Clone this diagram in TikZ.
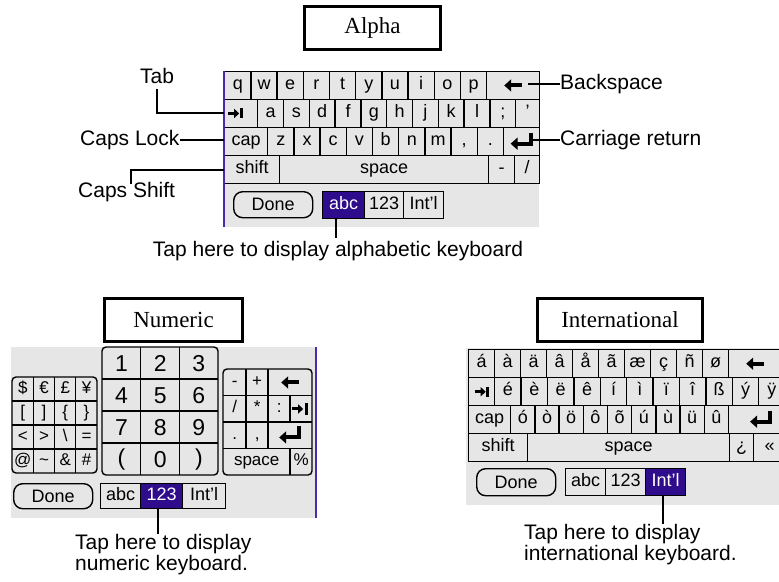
\documentclass[tikz,border=0pt]{standalone}
\usepackage{fontspec}
\setmainfont{Liberation Sans}
\newfontfamily\seriff{Liberation Serif}
\usetikzlibrary{arrows.meta}
\definecolor{kbg}{HTML}{E6E6E6}
\definecolor{hil}{HTML}{2E0C8C}
\definecolor{edgep}{HTML}{4A2AA8}
\tikzset{
 keyst/.style={draw=black, line width=1.4pt, fill=kbg, inner sep=0pt, text height=11pt, text depth=3pt, font=\fontsize{18}{18}\selectfont},
 hikey/.style={fill=hil, text=white},
 padkey/.style={inner sep=0pt, text height=11pt, text depth=3pt, font=\fontsize{17}{17}\selectfont},
 numkey/.style={inner sep=0pt, font=\fontsize{23}{23}\selectfont},
 titlebox/.style={draw=black, line width=3pt, fill=white, inner sep=0pt, font=\seriff\fontsize{23}{23}\selectfont},
 lbl/.style={font=\fontsize{21}{24}\selectfont, inner sep=0pt},
 lead/.style={draw=black, line width=2pt},
 padframe/.style={draw=black, line width=1.4pt, rounded corners=4pt},
 gridln/.style={draw=black, line width=1.4pt},
 donebtn/.style={draw=black, line width=1.4pt, rounded corners=9pt, fill=kbg, inner sep=0pt, font=\fontsize{18}{18}\selectfont},
 bigarrow/.style={line width=4pt, -{Triangle[length=7pt,width=12pt]}},
 smallarrow/.style={line width=3pt, -{Triangle[length=5pt,width=9pt]}},
}
% key node: [opts]{name}{x1}{y1}{x2}{y2}{label}
\newcommand\pkey[7][]{%
 \pgfmathsetmacro\kw{#5-#3}\pgfmathsetmacro\kh{#6-#4}%
 \node[keyst,#1,minimum width=\kw pt,minimum height=\kh pt,anchor=north west] (#2) at (#3,#4) {#7};}
% plain text cell: [style]{name}{x1}{y1}{x2}{y2}{label}
\newcommand\pcell[7][padkey]{%
 \pgfmathsetmacro\kw{#5-#3}\pgfmathsetmacro\kh{#6-#4}%
 \node[#1,minimum width=\kw pt,minimum height=\kh pt,anchor=north west] (#2) at (#3,#4) {#7};}
\newcommand\bsglyph[1]{\draw[bigarrow] ([xshift=9pt]#1.center) -- ([xshift=-9pt]#1.center);}
% tab glyph: {node}{x offset}
\newcommand\tabglyph[2]{\draw[smallarrow] ([xshift=#2pt-8pt]#1.center) -- ([xshift=#2pt+3pt]#1.center);
 \draw[line width=2.6pt] ([xshift=#2pt+5pt,yshift=5pt]#1.center) -- ([xshift=#2pt+5pt,yshift=-5pt]#1.center);}
\newcommand\retglyph[1]{\draw[bigarrow] ([xshift=9pt,yshift=9pt]#1.center) -- ([xshift=9pt,yshift=-2pt]#1.center) -- ([xshift=-11pt,yshift=-2pt]#1.center);}
\begin{document}
\begin{tikzpicture}[x=1pt,y=-1pt]
\useasboundingbox (0,0) rectangle (779,581);
\clip (0,0) rectangle (779,581);
\fill[white] (0,0) rectangle (779,581);

%================ ALPHA ================
\node[titlebox, minimum width=136pt, minimum height=43pt, anchor=north west] (talpha) at (303,5) {Alpha};
\fill[kbg] (224,71) rectangle (539,227);
\foreach \lab [count=\i from 0] in {q,w,e,r,t,y,u,i,o,p}{
  \pgfmathsetmacro\xa{224+26.2*\i}
  \pkey{aq\i}{\xa}{71}{\xa+26.2}{98.5}{\lab}}
\pkey{abs}{486}{71}{539}{98.5}{}
\pkey{atab}{224}{98.5}{257}{127}{}
\foreach \lab [count=\i from 0] in {a,s,d,f,g,h,j,k,l,;}{
  \pgfmathsetmacro\xa{257+25.8*\i}
  \pkey{aa\i}{\xa}{98.5}{\xa+25.8}{127}{\lab}}
\pkey{aquote}{515}{98.5}{539}{127}{'}
\pkey{acap}{224}{127}{267}{155}{cap}
\foreach \lab [count=\i from 0] in {z,x,c,v,b,n,m,{,},.}{
  \pgfmathsetmacro\xa{267+26.2*\i}
  \pkey{az\i}{\xa}{127}{\xa+26.2}{155}{\lab}}
\pkey{aret}{502.8}{127}{539}{155}{}
\pkey{ashift}{224}{155}{279}{183}{shift}
\pkey{aspace}{279}{155}{488}{183}{space}
\pkey{aminus}{488}{155}{514}{183}{-}
\pkey{aslash}{514}{155}{539}{183}{/}
\bsglyph{abs}
\tabglyph{atab}{-5}
\retglyph{aret}
\draw[edgep, line width=2.5pt] (224,71) -- (224,227);
\node[donebtn, minimum width=79pt, minimum height=26pt, anchor=north west] (adone) at (233,191) {Done};
\pkey[hikey]{aabc}{322}{191}{364}{218}{abc}
\pkey{a123}{364}{191}{403}{218}{123}
\pkey{aintl}{403}{191}{443}{218}{Int'l}
% labels
\node[lbl] (ltab) at (157,76) {Tab};
\node[lbl, anchor=west] (lcaps) at (80,140) {Caps Lock};
\node[lbl, anchor=west] (lshift) at (78,192) {Caps Shift};
\node[lbl, anchor=west] (lbs) at (560,84) {Backspace};
\node[lbl, anchor=west] (lcr) at (560,140) {Carriage return};
\node[lbl] (talph) at (338,251) {Tap here to display alphabetic keyboard};
\draw[lead] ([yshift=-5pt]ltab.south) |- (atab.west);
\draw[lead] (lcaps.east) -- (lcaps.east -| acap.west);
\coordinate (csh) at (131,184);
\draw[lead] (csh) |- (ashift.west);
\coordinate (bsst) at (528,84);
\draw[lead] (bsst) -- (lbs.west);
\coordinate (crst) at (532,140);
\draw[lead] (crst) -- (lcr.west);
\coordinate (abcl) at (336,218);
\draw[lead] (abcl) -- ([yshift=3pt]abcl |- talph.north);

%================ NUMERIC ================
\node[titlebox, minimum width=138pt, minimum height=43pt, anchor=north west] (tnum) at (103,297) {Numeric};
\fill[kbg] (11,347) rectangle (316,518);
% symbol pad
\foreach \row [count=\r from 0] in {{{\$},{€},{£},{¥}},{{[},{]},{\{},{\}}},{{<},{>},{\textbackslash},{=}},{{@},{\textasciitilde},{\&},{\#}}}{
  \foreach \lab [count=\c from 0] in \row {
    \pgfmathsetmacro\xa{12+21.25*\c}
    \pgfmathsetmacro\ya{377+24*\r}
    \pcell{ns\r\c}{\xa}{\ya}{\xa+21.25}{\ya+24}{\lab}}}
\draw[padframe] (12,377) rectangle (97,473);
\foreach \x in {33.25,54.5,75.75} \draw[gridln] (\x,377) -- (\x,473);
\foreach \y in {401,425,449} \draw[gridln] (12,\y) -- (97,\y);
% number pad
\foreach \row [count=\r from 0] in {{1,2,3},{4,5,6},{7,8,9},{{(},{0},{)}}}{
  \foreach \lab [count=\c from 0] in \row {
    \pgfmathsetmacro\xa{102+38.67*\c}
    \pgfmathsetmacro\ya{347+32*\r}
    \pcell[numkey]{nn\r\c}{\xa}{\ya}{\xa+38.67}{\ya+32}{\lab}}}
\draw[padframe] (102,347) rectangle (218,475);
\foreach \x in {140.67,179.33} \draw[gridln] (\x,347) -- (\x,475);
\foreach \y in {379,411,443} \draw[gridln] (102,\y) -- (218,\y);
% operator pad
\pcell{nminus}{223}{369}{246}{395.5}{-}
\pcell{nplus}{246}{369}{268}{395.5}{+}
\pcell{nbs}{268}{369}{312}{395.5}{}
\pcell{nsl}{223}{395.5}{246}{422}{/}
\pcell{nast}{246}{395.5}{268}{422}{*}
\pcell{ncol}{268}{395.5}{290}{422}{:}
\pcell{ntab}{290}{395.5}{312}{422}{}
\pcell{ndot}{223}{422}{246}{448.5}{.}
\pcell{ncom}{246}{422}{268}{448.5}{,}
\pcell{nret}{268}{422}{312}{448.5}{}
\pcell{nspace}{223}{448.5}{290}{475}{space}
\pcell{npct}{290}{448.5}{312}{475}{\%}
\draw[padframe] (223,369) rectangle (312,475);
\foreach \y in {395.5,422,448.5} \draw[gridln] (223,\y) -- (312,\y);
\draw[gridln] (246,369) -- (246,448.5);
\draw[gridln] (268,369) -- (268,448.5);
\draw[gridln] (290,395.5) -- (290,422);
\draw[gridln] (290,448.5) -- (290,475);
\bsglyph{nbs}
\draw[smallarrow] ([xshift=-9pt]ntab.center) -- ([xshift=2pt]ntab.center);
\draw[line width=2.6pt] ([xshift=5pt,yshift=6pt]ntab.center) -- ([xshift=5pt,yshift=-6pt]ntab.center);
\retglyph{nret}
\draw[edgep, line width=2.5pt] (316,347) -- (316,518);
\node[donebtn, minimum width=79pt, minimum height=25pt, anchor=north west] (ndone) at (13,483) {Done};
\pkey{nabc}{100}{483}{140}{508}{abc}
\pkey[hikey]{n123}{140}{483}{182}{508}{123}
\pkey{nintl}{182}{483}{225}{508}{Int'l}
\node[lbl, align=left, anchor=north west, font=\fontsize{21}{21}\selectfont] (tnumt) at (75,534) {Tap here to display\\numeric keyboard.};
\coordinate (n123l) at (158,508);
\draw[lead] (n123l) -- (n123l |- tnumt.north);

%================ INTERNATIONAL ================
\node[titlebox, minimum width=165pt, minimum height=43pt, anchor=north west] (tint) at (536,297) {International};
\fill[kbg] (466,348) rectangle (779,505);
\foreach \lab [count=\i from 0] in {á,à,ä,â,å,ã,æ,ç,ñ,ø}{
  \pgfmathsetmacro\xa{468+26*\i}
  \pkey{iq\i}{\xa}{349}{\xa+26}{377}{\lab}}
\pkey{ibs}{728}{349}{785}{377}{}
\pkey{itab}{468}{377}{494}{405}{}
\foreach \lab [count=\i from 0] in {é,è,ë,ê,í,ì,ï,î,ß,ý,ÿ}{
  \pgfmathsetmacro\xa{494+26.4*\i}
  \pkey{ia\i}{\xa}{377}{\xa+26.4}{405}{\lab}}
\pkey{icap}{468}{405}{510}{433}{cap}
\foreach \lab [count=\i from 0] in {ó,ò,ö,ô,õ,ú,ù,ü,û}{
  \pgfmathsetmacro\xa{510+24.2*\i}
  \pkey{iz\i}{\xa}{405}{\xa+24.2}{433}{\lab}}
\pkey{iret}{727.8}{405}{785}{433}{}
\pkey{ishift}{468}{433}{527}{461}{shift}
\pkey{ispace}{527}{433}{729}{461}{space}
\pkey{iinv}{729}{433}{753}{461}{¿}
\pkey{iguil}{753}{433}{785}{461}{«}
\draw[bigarrow] ([xshift=7pt]ibs.center) -- ([xshift=-11pt]ibs.center);
\tabglyph{itab}{1}
\draw[bigarrow] ([xshift=13pt,yshift=9pt]iret.center) -- ([xshift=13pt,yshift=-2pt]iret.center) -- ([xshift=-7pt,yshift=-2pt]iret.center);
\node[donebtn, minimum width=79pt, minimum height=27pt, anchor=north west] (idone) at (476,468) {Done};
\pkey{iabc}{565}{468}{605}{495}{abc}
\pkey{i123}{605}{468}{645}{495}{123}
\pkey[hikey]{iintl}{645}{468}{685}{495}{Int'l}
\node[lbl, align=left, anchor=north west, font=\fontsize{21}{21}\selectfont] (tintt) at (524,524) {Tap here to display\\international keyboard.};
\coordinate (iintll) at (663,495);
\draw[lead] (iintll) -- (iintll |- tintt.north);
\end{tikzpicture}
\end{document}
